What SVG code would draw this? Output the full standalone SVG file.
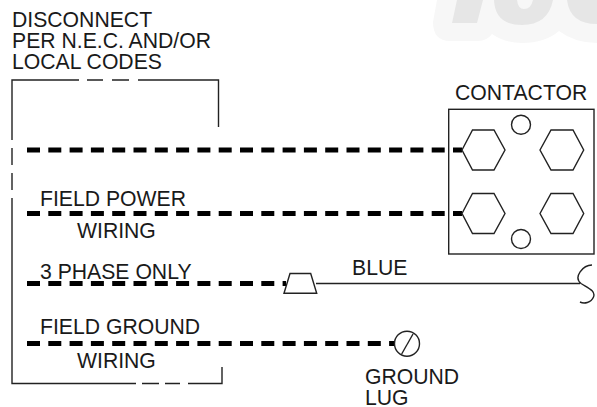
<svg xmlns="http://www.w3.org/2000/svg" width="597" height="407" viewBox="0 0 597 407">
<style>
text{font-family:"Liberation Sans",Arial,sans-serif;font-size:21.2px;fill:#1a1a1a}
.t{fill:none;stroke:#222;stroke-width:1.4}
.w{fill:none;stroke:#000;stroke-width:5;stroke-dasharray:13 8.3}
</style>
<rect width="597" height="407" fill="#fff"/>
<g id="background-mark">
<path fill="#f7f7f7" d="M437 0L433 22Q433 41 450 41H478Q487 41 492 34Q505 43 522 43Q545 43 559 31Q575 43 597 43V0Z"/>
<path fill="#e6e6e6" d="M457 0L452 23H477L483 0ZM494 0Q495 25 522 25Q548 25 553 0H533Q531 9 524 9Q518 9 517 0ZM567 0Q570 24 597 24V0Z"/>
</g>
<g id="labels">
<text x="12" y="27">DISCONNECT</text>
<text x="12" y="48">PER N.E.C. AND/OR</text>
<text x="12" y="69">LOCAL CODES</text>
<text x="40" y="206">FIELD POWER</text>
<text x="77" y="238">WIRING</text>
<text x="40" y="279">3 PHASE ONLY</text>
<text x="40" y="334">FIELD GROUND</text>
<text x="77" y="368">WIRING</text>
<text x="352" y="275">BLUE</text>
<text x="455" y="100">CONTACTOR</text>
<text x="365" y="384">GROUND</text>
<text x="365" y="405">LUG</text>
</g>
<g id="connectors">
<path class="w" d="M27 150H462M27 213.500H462M27 283.500H286M27 343.500H396"/>
<path class="t" d="M316 283.500H580M592 265C583 265 573 277 581 283.500C588 288 596 291 593.500 297C591 303 584 304 580 302"/>
</g>
<g id="disconnect">
<path class="t" d="M12 140V80H79M87 80H103M112 80H129M138 80H218.500V127M12 148V165M12 173V190M12 198V383.500H136M142 383.500H159M165 383.500H180M188 383.500H222V367"/>
</g>
<g id="contactor">
<rect class="t" x="448.700" y="109.300" width="145.300" height="144.700" fill="none"/>
<circle class="t" cx="521" cy="124.700" r="9.500"/>
<circle class="t" cx="521" cy="239" r="9.500"/>
<path class="t" style="fill:#fff" d="M462 150L472.500 130H494L505 150L494 170H472.500Z"/>
<path class="t" d="M540 150L551 130H573L583.700 150L573 170H551Z"/>
<path class="t" style="fill:#fff" d="M462 213.500L472.500 193.500H494L505 213.500L494 233.500H472.500Z"/>
<path class="t" d="M540 213.500L551 193.500H573L583.700 213.500L573 233.500H551Z"/>
</g>
<g id="connector-plug">
<path class="t" style="fill:#fff" d="M284 293.300L290 273.500H310.700L316.700 293.300Z"/>
</g>
<g id="ground-lug">
<circle class="t" style="fill:#fff" cx="407" cy="343.700" r="12.500"/>
<path class="t" d="M401.700 354L413 334"/>
</g>
</svg>
